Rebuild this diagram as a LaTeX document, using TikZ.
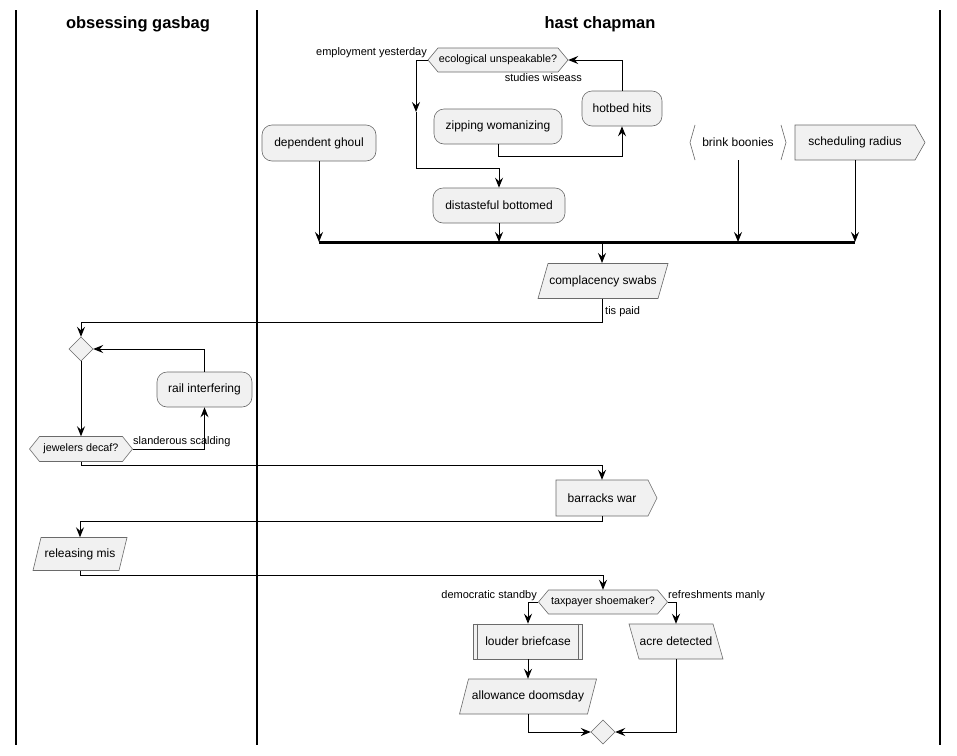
\documentclass[tikz,border=0pt]{standalone}
\usepackage{fontspec}
\setmainfont{Liberation Sans}
\usetikzlibrary{arrows.meta}
\definecolor{boxfill}{HTML}{F1F1F1}
\definecolor{boxline}{HTML}{6A6A6A}
\tikzset{
  shp/.style={fill=boxfill, draw=boxline, line width=0.6pt},
  rbox/.style={shp, rounded corners=10pt, inner sep=0pt, font=\fontsize{12}{14}\selectfont, minimum height=35pt},
  txt/.style={inner sep=0pt, font=\fontsize{12}{14}\selectfont},
  hextxt/.style={inner sep=0pt, font=\fontsize{10.8}{13}\selectfont},
  lbl/.style={inner sep=0pt, font=\fontsize{11}{13}\selectfont},
  conn/.style={line width=1pt, draw=black},
  arr/.style={conn, -{Stealth[length=10pt,width=8pt,inset=3.5pt]}},
  lane/.style={line width=1.4pt},
  head/.style={inner sep=0pt, font=\fontsize{16.5}{20}\selectfont\bfseries},
  bar/.style={line width=3pt},
}
% hexagon: cx cy hw hh point
\newcommand\hexshape[5]{\path[shp] ({#1-#3},#2) -- ({#1-#3+#5},{#2-#4}) -- ({#1+#3-#5},{#2-#4}) -- ({#1+#3},#2) -- ({#1+#3-#5},{#2+#4}) -- ({#1-#3+#5},{#2+#4}) -- cycle;}
% parallelogram: cx cy half-edge hh shift
\newcommand\parashape[5]{\path[shp] ({#1-#3+#5},{#2-#4}) -- ({#1+#3+#5},{#2-#4}) -- ({#1+#3-#5},{#2+#4}) -- ({#1-#3-#5},{#2+#4}) -- cycle;}
% pentagon pointing east: x1 x2 y1 y2 point
\newcommand\pentshape[5]{\path[shp] (#1,#3) -- (#2,#3) -- ({#2+#5},{(#3+#4)/2}) -- (#2,#4) -- (#1,#4) -- cycle;}
% diamond: cx cy hw hh
\newcommand\diashape[4]{\path[shp] ({#1-#3},#2) -- (#1,{#2-#4}) -- ({#1+#3},#2) -- (#1,{#2+#4}) -- cycle;}
\begin{document}
\begin{tikzpicture}[x=1pt,y=-1pt]
\useasboundingbox (0,0) rectangle (957,755);
\fill[white] (0,0) rectangle (957,755);
% lanes
\draw[lane] (16,10) -- (16,745);
\draw[lane] (257,10) -- (257,745);
\draw[lane] (940,10) -- (940,745);
\node[head] (h1) at (138,24) {obsessing gasbag};
\node[head] (h2) at (600,24) {hast chapman};

% shapes
\hexshape{498}{60}{70}{12}{10}
\hexshape{81}{449}{51.5}{12.5}{10}
\hexshape{603}{602}{64.5}{12}{10}
\parashape{603}{281}{60}{17.5}{5}
\parashape{80}{554}{43}{16.5}{4}
\parashape{528}{696.5}{64}{17.5}{4.5}
\parashape{676}{641.5}{42}{17.5}{-5}
\pentshape{795}{915}{125}{160}{10}
\pentshape{556}{648}{480}{516}{9}
\diashape{81}{349}{12}{12}
\diashape{603}{732}{12}{12}
\draw[draw=boxline, line width=0.6pt] (695,125) -- (690,142.5) -- (695,160);
\draw[draw=boxline, line width=0.6pt] (781,125) -- (786,142.5) -- (781,160);

% nodes
\node[hextxt, minimum width=140pt, minimum height=24pt] (eco) at (498,60) {ecological unspeakable?};
\node[rbox, minimum width=80pt] (hot) at (622,108.5) {hotbed hits};
\node[rbox, minimum width=128pt] (zip) at (498,126.5) {zipping womanizing};
\node[rbox, minimum width=132pt] (dist) at (499,205.5) {distasteful bottomed};
\node[rbox, minimum width=114pt, minimum height=36pt] (dep) at (319,143) {dependent ghoul};
\node[txt, minimum width=96pt, minimum height=35pt] (brink) at (738,142.5) {brink boonies};
\node[txt, minimum width=120pt, minimum height=35pt] (sched) at (855,142.5) {scheduling radius};
\coordinate (barL) at (319,242);
\coordinate (barR) at (855,242);
\node[txt, minimum width=120pt, minimum height=35pt] (comp) at (603,281) {complacency swabs};
\node[txt, minimum width=24pt, minimum height=24pt] (m1) at (81,349) {};
\node[hextxt, minimum width=103pt, minimum height=25pt] (jew) at (81,449) {jewelers decaf?};
\node[rbox, minimum width=95pt] (rail) at (204.5,389.5) {rail interfering};
\node[txt, minimum width=92pt, minimum height=36pt] (bar) at (602,498) {barracks war};
\node[txt, minimum width=86pt, minimum height=33pt] (rel) at (80,554) {releasing mis};
\node[hextxt, minimum width=129pt, minimum height=24pt] (tax) at (603,602) {taxpayer shoemaker?};
\node[shp, txt, minimum width=109pt, minimum height=35pt] (loud) at (528,641.5) {louder briefcase};
\draw[draw=boxline, line width=0.6pt] ([xshift=4.5pt]loud.north west) -- ([xshift=4.5pt]loud.south west);
\draw[draw=boxline, line width=0.6pt] ([xshift=-4.5pt]loud.north east) -- ([xshift=-4.5pt]loud.south east);
\node[txt, minimum width=84pt, minimum height=35pt] (acre) at (676,641.5) {acre detected};
\node[txt, minimum width=128pt, minimum height=35pt] (allow) at (528,696.5) {allowance doomsday};
\node[txt, minimum width=24pt, minimum height=24pt] (m2) at (603,732) {};

% labels
\node[lbl, anchor=east] (l1) at (427,53) {employment yesterday};
\node[lbl, anchor=east] (l2) at (582,78) {studies wiseass};
\node[lbl, anchor=west] (l3) at (605,312) {tis paid};
\node[lbl, anchor=west] (l4) at (133,442) {slanderous scalding};
\node[lbl, anchor=east] (l5) at (537,596) {democratic standby};
\node[lbl, anchor=west] (l6) at (668,596) {refreshments manly};

% connectors
\draw[arr] (zip.south) -- (498,156) -| (hot.south);
\draw[arr] (hot.north) |- (eco.east);
\coordinate (mid) at (416,112);
\draw[arr] (eco.west) -| (mid);
\draw[arr] (mid) -- (416,168) -| (dist.north);
\draw[bar] (barL) -- (barR);
\draw[arr] (dep.south) -- (319,242);
\draw[arr] (dist.south) -- (499,242);
\draw[arr] (brink.south) -- (738,242);
\draw[arr] (sched.south) -- (855,242);
\draw[arr] (602,242) -- (602,263);
\draw[arr] (602,298.5) -- (602,322) -| (m1.north);
\draw[arr] (m1.south) -- (jew.north);
\draw[arr] (jew.east) -| (rail.south);
\draw[arr] (rail.north) |- (m1.east);
\draw[arr] (jew.south) -- (81,465) -| (bar.north);
\draw[arr] (bar.south) -- (602,521) -| (rel.north);
\draw[arr] (rel.south) -- (80,575) -| (tax.north);
\draw[arr] (tax.west) -| (loud.north);
\draw[arr] (tax.east) -| (acre.north);
\draw[arr] (loud.south) -- (allow.north);
\draw[arr] (allow.south) |- (m2.west);
\draw[arr] (acre.south) |- (m2.east);
\end{tikzpicture}
\end{document}
